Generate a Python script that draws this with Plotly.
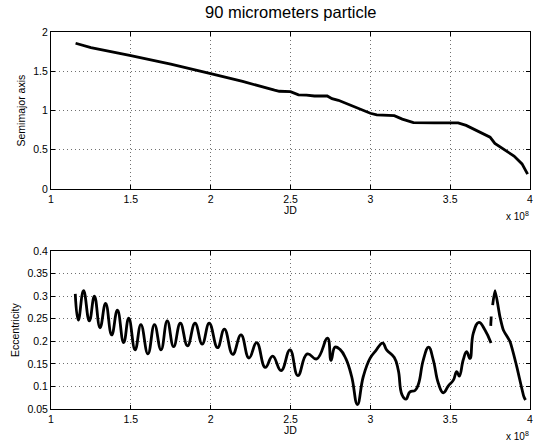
import plotly.graph_objects as go

# ---- data (x in units of 1e8 JD) ----
jd_a = [1.154, 1.25, 1.5, 1.75, 2.0, 2.2, 2.4, 2.43, 2.5, 2.55, 2.6, 2.65, 2.73, 2.76, 2.8,
        2.9, 3.0, 3.04, 3.1, 3.15, 3.2, 3.27, 3.4, 3.55, 3.6, 3.65, 3.7, 3.75, 3.78, 3.85,
        3.9, 3.95, 3.985]
semimajor = [1.857, 1.80, 1.70, 1.59, 1.47, 1.37, 1.26, 1.245, 1.24, 1.20, 1.195, 1.185, 1.185,
             1.15, 1.13, 1.05, 0.965, 0.945, 0.94, 0.935, 0.89, 0.845, 0.842, 0.842, 0.81, 0.76,
             0.71, 0.66, 0.58, 0.49, 0.42, 0.32, 0.19]

jd_e1 = [1.152, 1.171, 1.204, 1.240, 1.272, 1.307, 1.342, 1.380, 1.416, 1.455, 1.487, 1.527,
         1.563, 1.607, 1.648, 1.689, 1.728, 1.768, 1.810, 1.855, 1.902, 1.947, 1.991, 2.043,
         2.086, 2.138, 2.190, 2.240, 2.288, 2.342, 2.388, 2.441, 2.497, 2.546, 2.605, 2.664,
         2.732, 2.754, 2.779, 2.810, 2.846, 2.883, 2.919, 2.956, 2.998, 3.032, 3.077, 3.102,
         3.150, 3.175, 3.198, 3.223, 3.248, 3.280, 3.302, 3.332, 3.365, 3.394, 3.426, 3.457,
         3.490, 3.520, 3.541, 3.557, 3.582, 3.603, 3.624, 3.645, 3.680, 3.718, 3.756]
ecc1 = [0.305, 0.247, 0.312, 0.245, 0.300, 0.230, 0.284, 0.214, 0.269, 0.197, 0.251, 0.181,
        0.237, 0.172, 0.237, 0.181, 0.245, 0.188, 0.240, 0.190, 0.240, 0.194, 0.240, 0.186,
        0.227, 0.171, 0.214, 0.163, 0.197, 0.142, 0.167, 0.135, 0.181, 0.124, 0.172, 0.161,
        0.207, 0.158, 0.187, 0.182, 0.162, 0.122, 0.060, 0.122, 0.162, 0.178, 0.196, 0.181,
        0.164, 0.136, 0.082, 0.072, 0.088, 0.091, 0.106, 0.159, 0.187, 0.159, 0.107, 0.086,
        0.102, 0.114, 0.133, 0.123, 0.159, 0.177, 0.162, 0.218, 0.242, 0.225, 0.196]

jd_e2 = [3.754, 3.757, None, 3.766, 3.781, 3.812, 3.833, 3.875, 3.917, 3.962, 3.972]
ecc2 = [0.234, 0.255, None, 0.280, 0.312, 0.254, 0.225, 0.199, 0.144, 0.077, 0.070]

x_ticks = [1, 1.5, 2, 2.5, 3, 3.5, 4]
x_ticklabels = ["1", "1.5", "2", "2.5", "3", "3.5", "4"]
a_ticks = [0, 0.5, 1, 1.5, 2]
a_ticklabels = ["0", "0.5", "1", "1.5", "2"]
e_ticks = [0.05, 0.1, 0.15, 0.2, 0.25, 0.3, 0.35, 0.4]
e_ticklabels = ["0.05", "0.1", "0.15", "0.2", "0.25", "0.3", "0.35", "0.4"]

W, H = 535, 443
FONT = "Liberation Sans, Arial, Helvetica, sans-serif"

fig = go.Figure()
fig.add_trace(go.Scatter(x=jd_a, y=semimajor, mode="lines",
                         line=dict(color="black", width=2.8), xaxis="x", yaxis="y",
                         showlegend=False))
fig.add_trace(go.Scatter(x=jd_e1, y=ecc1, mode="lines",
                         line=dict(color="black", width=2.8, shape="spline", smoothing=1.3),
                         xaxis="x2", yaxis="y2", showlegend=False))
fig.add_trace(go.Scatter(x=jd_e2, y=ecc2, mode="lines",
                         line=dict(color="black", width=2.8, shape="spline", smoothing=0.6),
                         xaxis="x2", yaxis="y2", showlegend=False))

xdom = [51 / W, 530 / W]
ydom1 = [1 - 189 / H, 1 - 32 / H]
ydom2 = [1 - 409 / H, 1 - 251 / H]

common = dict(showline=True, linecolor="black", linewidth=1, mirror="allticks",
              ticks="inside", ticklen=4, tickcolor="black", tickwidth=1,
              showgrid=True, gridcolor="#707070", griddash="1px,3px", gridwidth=1,
              zeroline=False, automargin=False,
              tickfont=dict(family=FONT, size=10.5, color="black"))

fig.update_layout(
    template="none",
    width=W, height=H,
    margin=dict(l=0, r=0, t=0, b=0, pad=0, autoexpand=False),
    paper_bgcolor="white", plot_bgcolor="white",
    font=dict(family=FONT, color="black"),
    xaxis=dict(domain=xdom, range=[1, 4], tickvals=x_ticks, ticktext=x_ticklabels,
               anchor="y", **common),
    yaxis=dict(domain=ydom1, range=[0, 2], tickvals=a_ticks, ticktext=a_ticklabels,
               anchor="x", **common),
    xaxis2=dict(domain=xdom, range=[1, 4], tickvals=x_ticks, ticktext=x_ticklabels,
                anchor="y2", **common),
    yaxis2=dict(domain=ydom2, range=[0.05, 0.4], tickvals=e_ticks, ticktext=e_ticklabels,
                anchor="x2", **common),
)

ann = []
ann.append(dict(text="90 micrometers particle", x=(51 + 530) / 2 / W, y=1 - 12 / H,
                xref="paper", yref="paper", showarrow=False,
                font=dict(family=FONT, size=16.5, color="black"), xanchor="center", yanchor="middle"))
for ycen in (210, 430):
    ann.append(dict(text="JD", x=(51 + 530) / 2 / W, y=1 - ycen / H, xref="paper", yref="paper",
                    showarrow=False, font=dict(family=FONT, size=10.5, color="black"),
                    xanchor="center", yanchor="middle"))
for ycen in (216, 436):
    ann.append(dict(text="x 10<sup>8</sup>", x=531 / W, y=1 - ycen / H, xref="paper", yref="paper",
                    showarrow=False, font=dict(family=FONT, size=10, color="black"),
                    xanchor="right", yanchor="middle"))
ann.append(dict(text="Semimajor axis", x=21 / W, y=1 - 110.5 / H, xref="paper", yref="paper",
                showarrow=False, textangle=-90, font=dict(family=FONT, size=10.5, color="black"),
                xanchor="center", yanchor="middle"))
ann.append(dict(text="Eccentricity", x=15 / W, y=1 - 330 / H, xref="paper", yref="paper",
                showarrow=False, textangle=-90, font=dict(family=FONT, size=10.5, color="black"),
                xanchor="center", yanchor="middle"))
fig.update_layout(annotations=ann)

fig.write_html("out.html", config={"displayModeBar": False, "staticPlot": True},
               post_script="document.body.style.margin='0';document.body.style.overflow='hidden';")
